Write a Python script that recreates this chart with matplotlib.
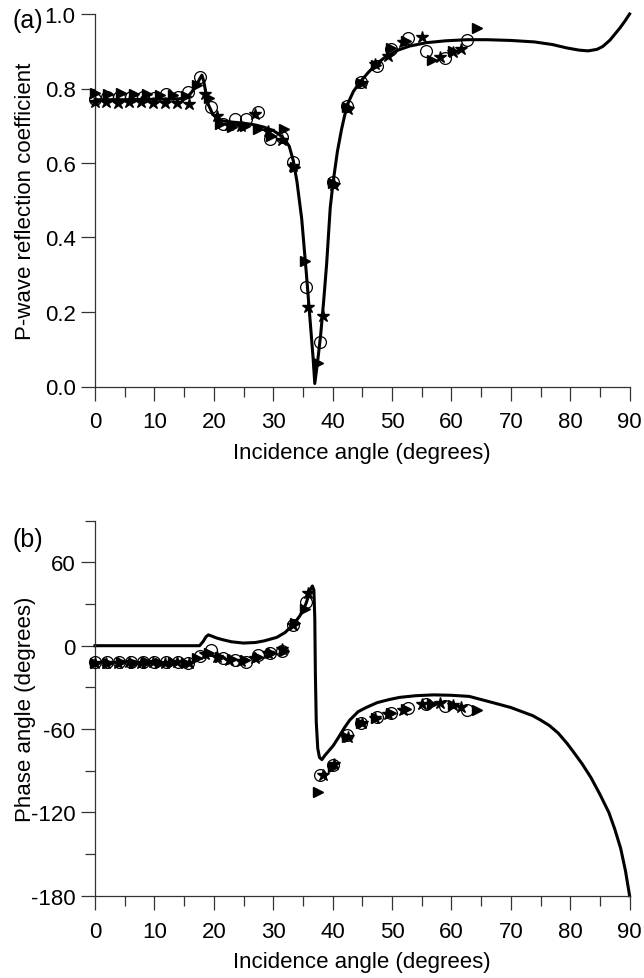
import matplotlib
matplotlib.use("Agg")
import matplotlib.pyplot as plt
from matplotlib.ticker import MultipleLocator, FormatStrFormatter

plt.rcParams['font.family'] = ['Liberation Sans', 'DejaVu Sans']
plt.rcParams['axes.unicode_minus'] = False

# theoretical curves (incidence angle in degrees)
theory_a_ang = [0, 5, 10, 14, 15, 16, 17, 17.6, 18.0, 18.3, 18.7, 19.1, 19.8, 20.5, 21.5,
                23, 25, 27, 28.5, 30, 31, 32, 32.7, 33.4, 34.0, 34.8, 35.6, 36.2, 36.7,
                37.0, 37.5, 38.0, 38.5, 39.0, 39.6, 40.1, 40.8, 41.5, 42.4, 43.5, 44.6,
                46, 47.4, 49, 51, 53, 55.8, 59, 62.6, 66, 70, 74, 77, 79.4, 81.5, 83,
                84.5, 85.5, 86.7, 88.4, 89.3, 90]
theory_a = [0.770, 0.770, 0.771, 0.772, 0.774, 0.785, 0.805, 0.825, 0.836, 0.820, 0.785,
            0.756, 0.732, 0.720, 0.713, 0.710, 0.707, 0.702, 0.696, 0.687, 0.677, 0.662,
            0.645, 0.605, 0.550, 0.450, 0.300, 0.180, 0.080, 0.008, 0.070, 0.140, 0.230,
            0.330, 0.480, 0.550, 0.630, 0.690, 0.754, 0.792, 0.817, 0.843, 0.866, 0.886,
            0.903, 0.914, 0.923, 0.928, 0.931, 0.931, 0.929, 0.925, 0.918, 0.909, 0.903,
            0.901, 0.905, 0.913, 0.930, 0.963, 0.983, 1.0]

theory_b_ang = [0, 17.6, 18.2, 18.7, 19.1, 19.6, 20.5, 21.6, 23, 25, 27, 28.5, 30.6, 32,
                32.9, 33.8, 34.5, 35.1, 35.6, 36.0, 36.3, 36.6, 36.85, 37.0, 37.1, 37.25,
                37.5, 37.8, 38.2, 38.7, 39.3, 40.1, 41.0, 42.0, 42.9, 44.3, 45.7, 47.5,
                49.5, 51.3, 54, 57, 60, 63, 66.8, 70, 73.7, 75, 76.5, 78, 79.5, 80.6, 82,
                83.5, 85, 86.5, 87.5, 88.5, 89.3, 90]
theory_b = [0, 0, 3, 6.5, 7.8, 7, 5.5, 4.2, 2.8, 1.9, 2.3, 3.5, 6, 9.5, 13.2, 17.5, 21.6,
            26, 31.2, 37, 41, 43, 40, 20, -20, -55, -74, -80.5, -82, -79, -76, -72, -66,
            -59, -53.5, -47.5, -44.4, -41, -38.8, -37.2, -36, -35.4, -35.7, -36.5, -40.8,
            -44.5, -50.4, -53.5, -57.5, -63, -70.5, -76.8, -85, -95, -107, -120, -132,
            -146, -162, -180]

# measured points, three data sets
circ_ang = [0, 2, 4, 6, 8, 10, 12, 14, 15.7, 17.7, 19.5, 21.6, 23.6, 25.5, 27.5, 29.5,
            31.5, 33.4, 35.6, 37.9, 40.1, 42.4, 44.8, 47.4, 49.9, 52.7, 55.7, 59.0, 62.7]
circ_a = [0.772, 0.776, 0.778, 0.778, 0.777, 0.775, 0.784, 0.776, 0.790, 0.830, 0.750,
          0.705, 0.718, 0.718, 0.736, 0.664, 0.669, 0.604, 0.266, 0.120, 0.550, 0.754,
          0.817, 0.861, 0.906, 0.935, 0.901, 0.882, 0.931]
circ_b = [-12, -12, -12, -11.5, -12, -12, -12, -12, -12.5, -7.5, -3, -8.5, -10.5, -11.5,
          -7, -5, -3.6, 14.9, 31.2, -93, -86, -64, -55.5, -51.5, -48.5, -45, -42, -43.5,
          -46]

tri_ang = [0, 2.2, 4.4, 6.6, 8.8, 11.0, 13.2, 15.4, 17.2, 19.2, 21.0, 23.0, 25.2, 27.4,
           29.6, 31.8, 33.6, 35.4, 37.6, 40.0, 42.4, 44.8, 47.3, 49.8, 52.4, 56.7, 60.3,
           64.3]
tri_a = [0.787, 0.785, 0.787, 0.784, 0.786, 0.783, 0.782, 0.780, 0.810, 0.775, 0.705,
         0.697, 0.698, 0.690, 0.673, 0.690, 0.590, 0.338, 0.063, 0.545, 0.750, 0.815,
         0.862, 0.910, 0.928, 0.877, 0.900, 0.962]
tri_b = [-12.5, -12.5, -12, -12.5, -12, -12.5, -12, -12.5, -9, -5, -8, -9.5, -10.5, -8,
         -5.5, -3.5, 16, 26.4, -105.6, -87, -66, -56, -52, -48.5, -45.5, -42, -42.5, -46]

star_ang = [0, 1.8, 3.8, 5.8, 7.8, 9.8, 11.8, 13.8, 15.8, 18.6, 20.6, 22.6, 24.6, 26.9,
            29.2, 31.4, 33.4, 35.9, 38.3, 40.3, 42.6, 45.0, 47.2, 49.4, 51.9, 55.0, 58.0,
            60.2, 61.6]
star_a = [0.763, 0.764, 0.762, 0.764, 0.763, 0.760, 0.762, 0.760, 0.758, 0.785, 0.727,
          0.702, 0.700, 0.732, 0.685, 0.662, 0.593, 0.213, 0.190, 0.540, 0.745, 0.815,
          0.866, 0.888, 0.926, 0.939, 0.884, 0.898, 0.905]
star_b = [-12.5, -12.5, -12.5, -12, -12.5, -12, -12.5, -12, -12.5, -6, -8, -10, -11,
          -8.5, -5, -2.5, 15, 38, -93, -85, -66, -56, -52, -49, -46, -42, -41.3, -43, -44]

W, H = 644, 979
fig = plt.figure(figsize=(W / 100, H / 100), dpi=100)
ax_a = fig.add_axes([95 / W, 1 - 387.5 / H, 534.6 / W, 372.5 / H])
ax_b = fig.add_axes([95 / W, 1 - 896.7 / H, 534.6 / W, 375 / H])

FS = 16


def style(ax):
    for s in ("top", "right"):
        ax.spines[s].set_visible(False)
    for s in ("left", "bottom"):
        ax.spines[s].set_linewidth(0.9)
        ax.spines[s].set_color("#333333")
    ax.set_xlim(0, 90)
    ax.xaxis.set_major_locator(MultipleLocator(10))
    ax.xaxis.set_minor_locator(MultipleLocator(5))
    ax.tick_params(which="major", length=10, width=0.9, color="#333333", labelsize=FS)
    ax.tick_params(which="minor", length=7, width=0.9, color="#333333")
    ax.tick_params(axis="x", pad=8)
    ax.tick_params(axis="y", pad=4)
    ax.set_xlabel("Incidence angle (degrees)", fontsize=FS, labelpad=7)
    # keep both y labels on the same vertical line
    ax.yaxis.set_label_coords(-59 / 534.6, 0.5)


def points(ax, ca, cv, ta, tv, sa, sv):
    ax.plot(ca, cv, ls="none", marker="o", ms=8.5, mfc="none", mec="black", mew=0.9,
            clip_on=False, zorder=3)
    ax.plot(ta, tv, ls="none", marker=">", ms=6.5, color="black", clip_on=False, zorder=3)
    ax.plot(sa, sv, ls="none", marker="*", ms=9, color="black", clip_on=False, zorder=3)


# (a) reflection coefficient magnitude
style(ax_a)
ax_a.plot(theory_a_ang, theory_a, color="black", lw=2.2, clip_on=False, zorder=2)
points(ax_a, circ_ang, circ_a, tri_ang, tri_a, star_ang, star_a)
ax_a.set_ylim(0, 1.0)
ax_a.yaxis.set_major_locator(MultipleLocator(0.2))
ax_a.yaxis.set_major_formatter(FormatStrFormatter("%.1f"))
ax_a.set_ylabel("P-wave reflection coefficient", fontsize=FS)
fig.text(12 / W, 1 - 21 / H, "(a)", fontsize=18, ha="left", va="center")

# (b) phase
style(ax_b)
ax_b.plot(theory_b_ang, theory_b, color="black", lw=2.2, clip_on=False, zorder=2)
points(ax_b, circ_ang, circ_b, tri_ang, tri_b, star_ang, star_b)
ax_b.set_ylim(-180, 90)
ax_b.set_yticks([-180, -120, -60, 0, 60])
ax_b.set_yticks([-150, -90, -30, 30, 90], minor=True)
ax_b.set_ylabel("Phase angle (degrees)", fontsize=FS)
fig.text(12 / W, 1 - 540 / H, "(b)", fontsize=18, ha="left", va="center")

fig.savefig("out.png", dpi=100)
